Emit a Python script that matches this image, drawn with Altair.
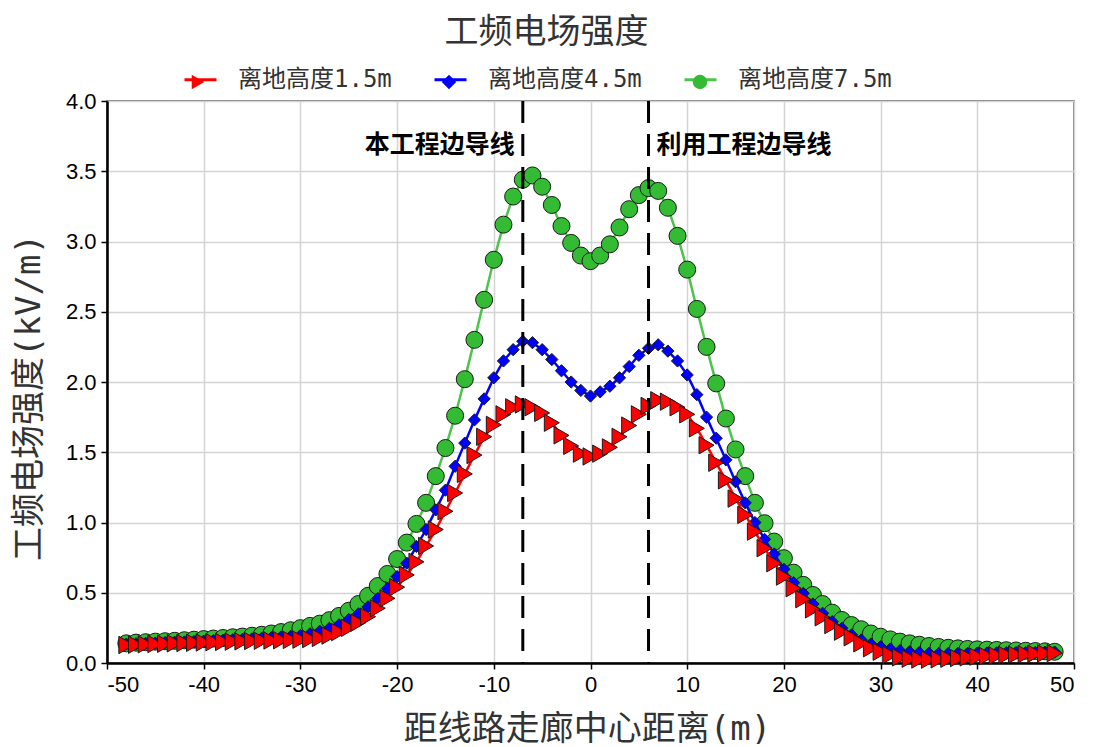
import altair as alt
import pandas as pd

# distance from corridor centre (m)
x_m = [-48, -47, -46, -45, -44, -43, -42, -41, -40, -39, -38, -37, -36, -35, -34, -33,
       -32, -31, -30, -29, -28, -27, -26, -25, -24, -23, -22, -21, -20, -19, -18, -17,
       -16, -15, -14, -13, -12, -11, -10, -9, -8, -7, -6, -5, -4, -3, -2, -1,
       0, 1, 2, 3, 4, 5, 6, 7, 8, 9, 10, 11, 12, 13, 14, 15,
       16, 17, 18, 19, 20, 21, 22, 23, 24, 25, 26, 27, 28, 29, 30, 31,
       32, 33, 34, 35, 36, 37, 38, 39, 40, 41, 42, 43, 44, 45, 46, 47, 48]

# field strength (kV/m) at 1.5 m
e_15 = [0.128, 0.130, 0.133, 0.135, 0.137, 0.140, 0.142, 0.144, 0.146, 0.148, 0.150, 0.152,
        0.154, 0.156, 0.158, 0.160, 0.162, 0.164, 0.166, 0.170, 0.178, 0.195, 0.220, 0.250,
        0.287, 0.330, 0.390, 0.460, 0.540, 0.627, 0.720, 0.833, 0.950, 1.080, 1.210, 1.346,
        1.480, 1.610, 1.695, 1.770, 1.820, 1.840, 1.820, 1.780, 1.710, 1.620, 1.545, 1.490,
        1.470, 1.490, 1.535, 1.610, 1.690, 1.770, 1.830, 1.870, 1.860, 1.820, 1.770, 1.670,
        1.550, 1.425, 1.300, 1.170, 1.054, 0.935, 0.817, 0.710, 0.615, 0.532, 0.454, 0.382,
        0.325, 0.270, 0.223, 0.183, 0.140, 0.105, 0.080, 0.057, 0.040, 0.030, 0.025, 0.024,
        0.026, 0.030, 0.035, 0.040, 0.045, 0.050, 0.053, 0.057, 0.060, 0.063, 0.066, 0.068,
        0.070]

# field strength (kV/m) at 4.5 m
e_45 = [0.135, 0.137, 0.140, 0.142, 0.145, 0.148, 0.150, 0.153, 0.156, 0.159, 0.162, 0.165,
        0.168, 0.172, 0.176, 0.180, 0.185, 0.190, 0.196, 0.208, 0.226, 0.247, 0.272, 0.310,
        0.350, 0.400, 0.460, 0.530, 0.615, 0.710, 0.830, 0.950, 1.090, 1.230, 1.400, 1.565,
        1.730, 1.880, 2.030, 2.150, 2.230, 2.290, 2.280, 2.230, 2.160, 2.080, 2.000, 1.940,
        1.900, 1.930, 1.970, 2.030, 2.110, 2.190, 2.240, 2.265, 2.220, 2.150, 2.050, 1.910,
        1.750, 1.600, 1.446, 1.290, 1.140, 1.000, 0.880, 0.776, 0.667, 0.572, 0.496, 0.420,
        0.354, 0.294, 0.247, 0.200, 0.164, 0.135, 0.116, 0.100, 0.088, 0.080, 0.074, 0.070,
        0.068, 0.068, 0.068, 0.069, 0.070, 0.071, 0.072, 0.073, 0.074, 0.075, 0.076, 0.077,
        0.078]

# field strength (kV/m) at 7.5 m
e_75 = [0.140, 0.145, 0.148, 0.152, 0.155, 0.158, 0.162, 0.166, 0.170, 0.174, 0.178, 0.183,
        0.188, 0.194, 0.201, 0.210, 0.220, 0.233, 0.248, 0.264, 0.280, 0.305, 0.335, 0.372,
        0.420, 0.478, 0.548, 0.634, 0.740, 0.857, 0.990, 1.140, 1.330, 1.530, 1.760, 2.020,
        2.300, 2.585, 2.870, 3.120, 3.320, 3.440, 3.470, 3.390, 3.260, 3.110, 2.990, 2.900,
        2.860, 2.900, 2.980, 3.100, 3.230, 3.330, 3.380, 3.360, 3.240, 3.040, 2.800, 2.520,
        2.250, 1.990, 1.740, 1.520, 1.330, 1.140, 0.995, 0.864, 0.746, 0.643, 0.556, 0.484,
        0.420, 0.358, 0.306, 0.270, 0.240, 0.210, 0.187, 0.168, 0.152, 0.140, 0.130, 0.121,
        0.114, 0.108, 0.104, 0.100, 0.097, 0.095, 0.093, 0.091, 0.089, 0.087, 0.085, 0.083,
        0.080]

series_names = ["离地高度1.5m", "离地高度4.5m", "离地高度7.5m"]
line_colors = ["#ff0000", "#0000ff", "#4cc44c"]
fill_colors = ["#ff0000", "#0000ff", "#33bb33"]
shapes = ["triangle-right", "diamond", "circle"]
marker_sizes = [300, 150, 290]

conductor_x = [-7, 6]
conductor_labels = ["本工程边导线", "利用工程边导线"]
label_y = 3.69

x_ticks = [-50, -40, -30, -20, -10, 0, 10, 20, 30, 40, 50]
y_ticks = [0.0, 0.5, 1.0, 1.5, 2.0, 2.5, 3.0, 3.5, 4.0]

rows = []
for name, vals in zip(series_names, [e_15, e_45, e_75]):
    for xv, yv in zip(x_m, vals):
        rows.append({"x": xv, "E": yv, "series": name})
df = pd.DataFrame(rows)

CJK = "Noto Sans CJK SC"
LAT = "Liberation Sans"
MONO_CJK = "DejaVu Sans Mono, " + CJK

x_enc = alt.X("x:Q", scale=alt.Scale(domain=[-50, 50], nice=False, zero=False),
              axis=alt.Axis(values=x_ticks, labelExpr="'' + datum.value",
                            title="距线路走廊中心距离(m)",
                            titleX=480, titleY=66, titleBaseline="middle"))
y_enc = alt.Y("E:Q", scale=alt.Scale(domain=[0, 4], nice=False),
              axis=alt.Axis(values=y_ticks, format=".1f",
                            title="工频电场强度(kV/m)",
                            titleX=-78, titleY=296, titleAngle=-90,
                            titleAlign="center", titleBaseline="middle"))

LEG_X = 76
LEG_Y = -39
legend_line = alt.Legend(title=None, orient="none", legendX=LEG_X, legendY=LEG_Y,
                         direction="horizontal", symbolType="stroke", symbolSize=1024,
                         symbolStrokeWidth=3, labelFont=MONO_CJK,
                         labelFontSize=24, labelColor="#333333", labelOffset=20,
                         columnPadding=36)
legend_mark = alt.Legend(title=None, orient="none", legendX=LEG_X + 4, legendY=LEG_Y + 9,
                         direction="horizontal", symbolSize=210,
                         symbolStrokeColor="#1a1a1a", symbolStrokeWidth=1,
                         labelExpr="''", labelFontSize=22, labelOffset=0,
                         columnPadding=229)

base = alt.Chart(df)
layers = []
for idx in [2, 1, 0]:
    name = series_names[idx]
    ln = base.transform_filter(alt.datum.series == name).mark_line(strokeWidth=2.5).encode(
        x=x_enc, y=y_enc,
        color=alt.Color("series:N", scale=alt.Scale(domain=series_names, range=line_colors),
                        legend=legend_line))
    pt = base.transform_filter(alt.datum.series == name).mark_point(
        filled=True, stroke="#1a1a1a", strokeWidth=1, opacity=1, size=marker_sizes[idx]).encode(
        x=x_enc, y=y_enc,
        fill=alt.Fill("series:N", scale=alt.Scale(range=fill_colors), legend=legend_mark),
        shape=alt.Shape("series:N", scale=alt.Scale(range=shapes), legend=legend_mark))
    layers += [ln, pt]

cond_df = pd.DataFrame({"x": conductor_x})
rules = alt.Chart(cond_df).mark_rule(color="black", strokeWidth=3, strokeDash=[22, 11]).encode(x="x:Q")

lab_left = alt.Chart(pd.DataFrame({"x": [conductor_x[0]], "y": [label_y], "t": [conductor_labels[0]]})).mark_text(
    align="right", baseline="middle", dx=-8, font=CJK, fontSize=25, fontWeight="bold", color="black"
).encode(x="x:Q", y="y:Q", text="t:N")
lab_right = alt.Chart(pd.DataFrame({"x": [conductor_x[1]], "y": [label_y], "t": [conductor_labels[1]]})).mark_text(
    align="left", baseline="middle", dx=8, font=CJK, fontSize=25, fontWeight="bold", color="black"
).encode(x="x:Q", y="y:Q", text="t:N")

chart = alt.layer(*layers, rules, lab_left, lab_right).properties(
    width=967, height=562,
    autosize=alt.AutoSizeParams(type="none"),
    padding={"left": 107, "top": 101, "right": 19, "bottom": 84},
    title=alt.TitleParams("工频电场强度", anchor="middle", frame="group", offset=12, dx=-44,
                          font=CJK, fontSize=34, fontWeight="normal", color="#333333"),
    background="white",
).configure_view(stroke="#555555", strokeWidth=1.5).configure_axis(
    labelFont=LAT, labelFontSize=22, labelColor="black", labelPadding=5,
    tickColor="black", tickSize=6, tickWidth=1.5,
    domainColor="black", domainWidth=2.5,
    grid=True, gridColor="#d4d4d4", gridWidth=1.5,
    titleFont=MONO_CJK, titleFontSize=34, titleFontWeight="normal", titleColor="#333333",
)

chart.save("out.html", embed_options={"renderer": "svg", "actions": False})
